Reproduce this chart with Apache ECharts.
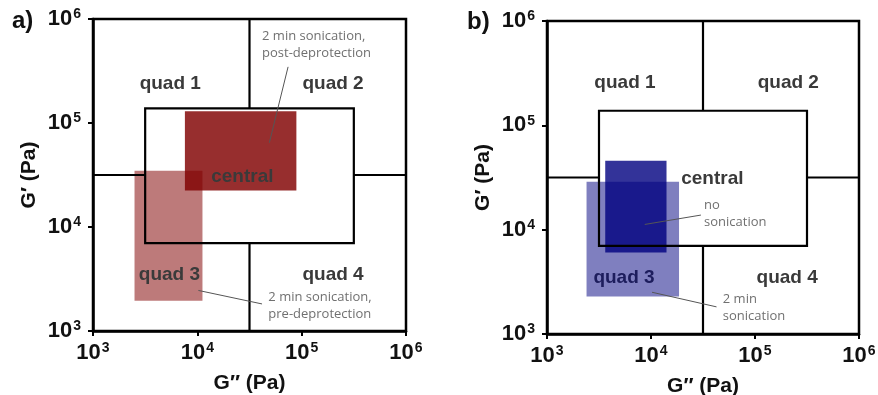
<!DOCTYPE html>
<html lang="en" style="height: 100%">
<head>
  <meta charset="utf-8">
</head>
<body style="height: 100%; margin: 0; background: #fff">
  <div id="container" style="width: 878px; height: 395px"></div>

  <script type="text/javascript" src="https://fastly.jsdelivr.net/npm/echarts@6/dist/echarts.min.js"></script>

  <script type="text/javascript">
    // axis range: decades 10^3 .. 10^6 on both axes
    var decadeExponents = [3, 4, 5, 6];
    var axisMin = 1e3, axisMax = 1e6;

    // quadrant split (G'' and G') and central region [x0, x1, y0, y1]
    var quadSplitX = 31623;
    var quadSplitY = 31623;
    var centralBox = [3162, 316228, 7000, 138000];

    // panel a) shaded regions [x0, x1, y0, y1]
    var postDeprotection = [7600, 89000, 22400, 130000];
    var preDeprotection = [2500, 11200, 1950, 34700];

    // panel b) shaded regions [x0, x1, y0, y1]
    var noSonication = [3630, 14100, 6030, 45700];
    var twoMinSonication = [2400, 18600, 2290, 28800];

    // region names and their anchor points [x, y]
    var regionNames = ['quad 1', 'quad 2', 'central', 'quad 3', 'quad 4'];
    var regionPosA = [[5500, 240000], [200000, 240000], [27000, 30200], [5400, 3450], [200000, 3450]];
    var regionPosB = [[5620, 255000], [209000, 255000], [38900, 31000], [5500, 3450], [204000, 3450]];

    // annotations: text, top-left anchor [x, y], leader line [x1, y1, x2, y2]
    var notesA = ['2 min sonication,\npost-deprotection', '2 min sonication,\npre-deprotection'];
    var notePosA = [[41700, 828000], [47900, 2564]];
    var leadersA = [[74100, 346700, 49000, 64600], [10230, 2455, 41700, 1820]];
    var notesB = ['no\nsonication', '2 min\nsonication'];
    var notePosB = [[32400, 20750], [49000, 2606]];
    var leadersB = [[8710, 11220, 30200, 13800], [10230, 2512, 42660, 1820]];

    var dom = document.getElementById('container');
    var myChart = echarts.init(dom, null, { renderer: 'canvas' });

    var tickFont = 'Liberation Sans';

    function makeXAxis(gridIndex) {
      return {
        type: 'log', logBase: 10, gridIndex: gridIndex,
        min: axisMin, max: axisMax, interval: 1,
        name: 'G\u2033 (Pa)', nameLocation: 'middle', nameGap: 42,
        nameTextStyle: { fontFamily: tickFont, fontWeight: 'bold', fontSize: 21, color: '#111' },
        axisLine: { show: true, lineStyle: { color: '#000', width: 2.5 } },
        axisTick: { show: true, length: 5, lineStyle: { color: '#000', width: 2 } },
        minorTick: { show: false },
        splitLine: { show: false },
        axisLabel: {
          margin: 10,
          formatter: function (v) {
            var e = Math.round(Math.log10(v));
            return decadeExponents.indexOf(e) >= 0 ? '{b|10}{s|' + e + '}' : '';
          },
          rich: {
            b: { fontFamily: tickFont, fontWeight: 'bold', fontSize: 22, color: '#111' },
            s: { fontFamily: tickFont, fontWeight: 'bold', fontSize: 14, color: '#111', padding: [0, 0, 9, 1] }
          }
        }
      };
    }

    function makeYAxis(gridIndex) {
      var ax = makeXAxis(gridIndex);
      ax.name = 'G\u2032 (Pa)';
      ax.nameGap = 53;
      ax.nameRotate = 90;
      ax.axisLabel.margin = 12;
      return ax;
    }

    function rectSeries(box, color, idx, z) {
      return {
        type: 'custom', xAxisIndex: idx, yAxisIndex: idx, z: z, silent: true,
        data: [box],
        renderItem: function (params, api) {
          var p0 = api.coord([api.value(0), api.value(3)]);
          var p1 = api.coord([api.value(1), api.value(2)]);
          return {
            type: 'rect',
            shape: { x: p0[0], y: p0[1], width: p1[0] - p0[0], height: p1[1] - p0[1] },
            style: color ? { fill: color } : { fill: null, stroke: '#000', lineWidth: 2.2 }
          };
        }
      };
    }

    function segmentSeries(segs, color, width, idx, z) {
      return {
        type: 'custom', xAxisIndex: idx, yAxisIndex: idx, z: z, silent: true,
        data: segs,
        renderItem: function (params, api) {
          var a = api.coord([api.value(0), api.value(1)]);
          var b = api.coord([api.value(2), api.value(3)]);
          return {
            type: 'line',
            shape: { x1: a[0], y1: a[1], x2: b[0], y2: b[1] },
            style: { stroke: color, lineWidth: width }
          };
        }
      };
    }

    function textSeries(texts, pos, style, idx, z) {
      return {
        type: 'custom', xAxisIndex: idx, yAxisIndex: idx, z: z, silent: true,
        data: pos.map(function (p, i) { return [p[0], p[1], i]; }),
        renderItem: function (params, api) {
          var p = api.coord([api.value(0), api.value(1)]);
          return {
            type: 'text',
            style: Object.assign({ text: texts[api.value(2)], x: p[0], y: p[1] }, style)
          };
        }
      };
    }

    function quadSegments() {
      return [
        [quadSplitX, axisMax, quadSplitX, centralBox[3]],
        [quadSplitX, centralBox[2], quadSplitX, axisMin],
        [axisMin, quadSplitY, centralBox[0], quadSplitY],
        [centralBox[1], quadSplitY, axisMax, quadSplitY]
      ];
    }

    var regionStyle = {
      fill: '#3a3a3a', font: 'bold 19px "Liberation Sans"', align: 'center', verticalAlign: 'middle'
    };
    var noteStyle = {
      fill: '#707070', font: '13px "Open Sans"', align: 'left', verticalAlign: 'top', lineHeight: 17
    };

    var series = [];
    // panel a
    series.push(rectSeries(preDeprotection, 'rgba(128,0,0,0.52)', 0, 2));
    series.push(rectSeries(postDeprotection, 'rgba(128,0,0,0.82)', 0, 3));
    series.push(segmentSeries(quadSegments(), '#000', 2.2, 0, 4));
    series.push(rectSeries(centralBox, null, 0, 4));
    series.push(textSeries(regionNames, regionPosA, regionStyle, 0, 5));
    series.push(textSeries(notesA, notePosA, noteStyle, 0, 5));
    series.push(segmentSeries(leadersA, '#555', 1, 0, 5));
    // panel b (region names sit under the translucent fills)
    series.push(textSeries(regionNames, regionPosB, regionStyle, 1, 1));
    series.push(rectSeries(twoMinSonication, 'rgba(0,0,128,0.5)', 1, 2));
    series.push(rectSeries(noSonication, 'rgba(0,0,128,0.8)', 1, 3));
    series.push(segmentSeries(quadSegments(), '#000', 2.2, 1, 4));
    series.push(rectSeries(centralBox, null, 1, 4));
    series.push(textSeries(notesB, notePosB, noteStyle, 1, 5));
    series.push(segmentSeries(leadersB, '#555', 1, 1, 5));

    var option = {
      animation: false,
      grid: [
        { left: 93, top: 19, width: 313, height: 312, outerBoundsMode: 'none', show: true, borderColor: '#000', borderWidth: 2.5, backgroundColor: 'transparent' },
        { left: 547, top: 21, width: 312, height: 313, outerBoundsMode: 'none', show: true, borderColor: '#000', borderWidth: 2.5, backgroundColor: 'transparent' }
      ],
      xAxis: [makeXAxis(0), makeXAxis(1)],
      yAxis: [makeYAxis(0), makeYAxis(1)],
      graphic: [
        { type: 'text', left: 12, top: 9, style: { text: 'a)', font: 'bold 24px "Liberation Sans"', fill: '#111' } },
        { type: 'text', left: 467, top: 10, style: { text: 'b)', font: 'bold 24px "Liberation Sans"', fill: '#111' } }
      ],
      series: series
    };

    myChart.setOption(option);
    window.addEventListener('resize', myChart.resize);
  </script>
</body>
</html>
